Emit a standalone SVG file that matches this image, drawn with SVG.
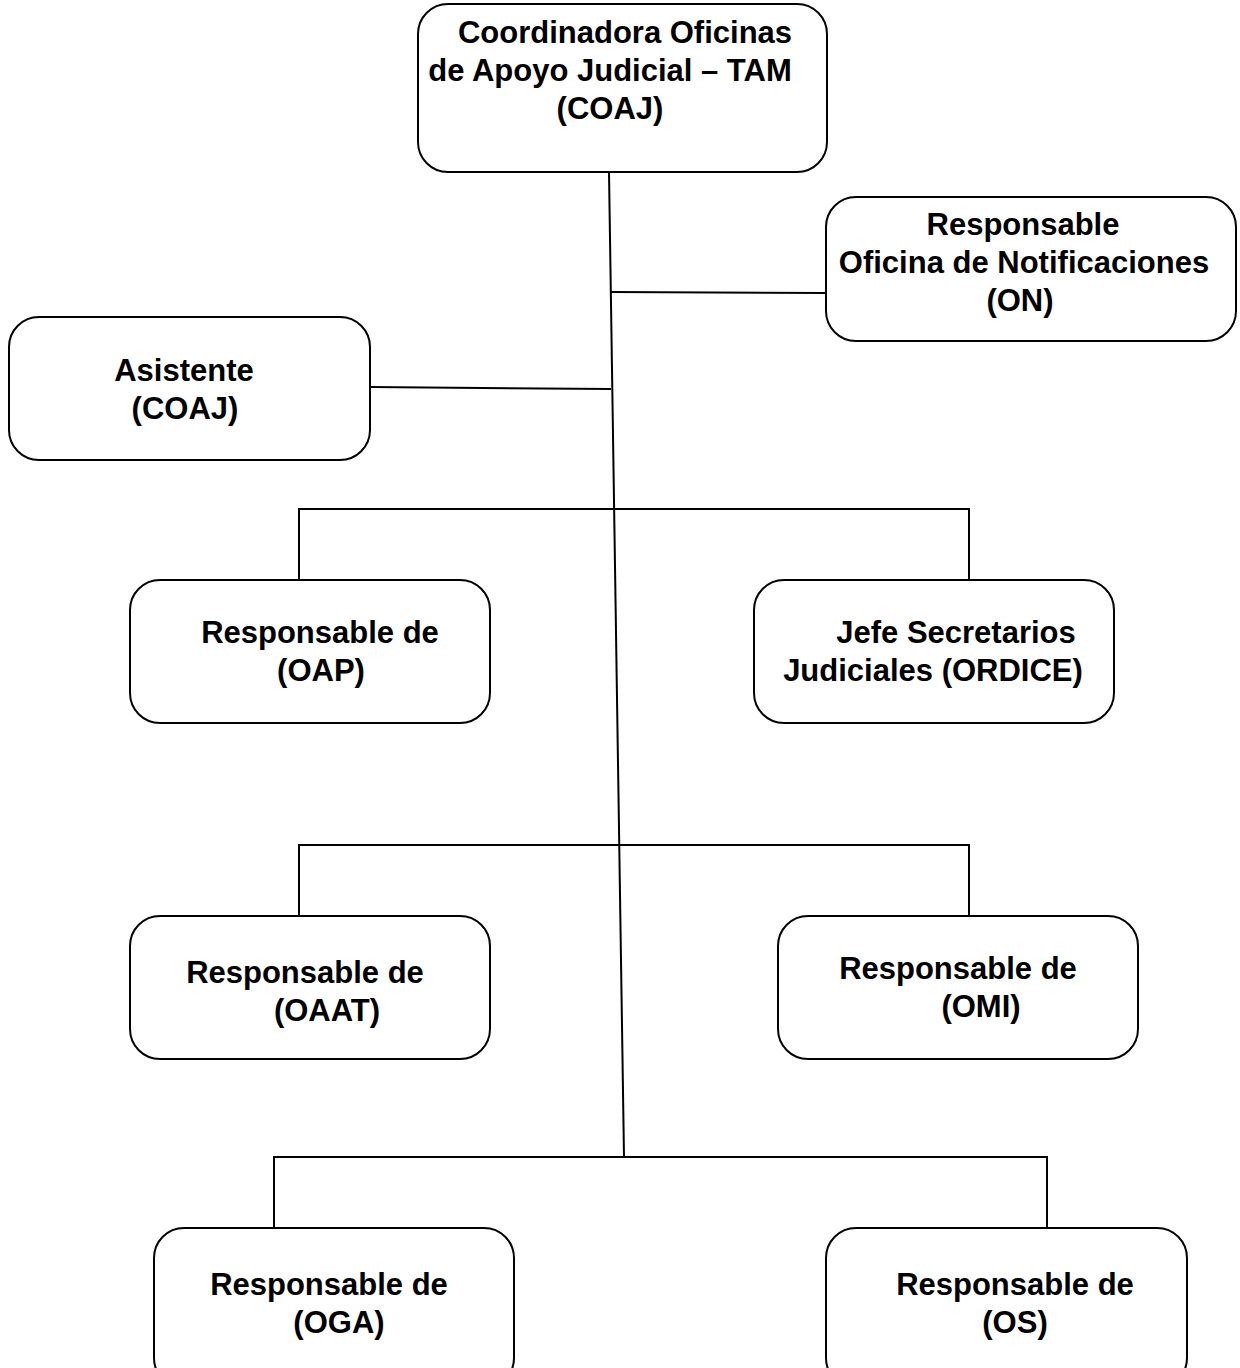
<svg xmlns="http://www.w3.org/2000/svg" width="1240" height="1368" viewBox="0 0 1240 1368">
<style>
.box{fill:#fff;stroke:#000;stroke-width:2}
.t{font-family:"Liberation Sans",Arial,sans-serif;font-weight:bold;font-size:31px;fill:#000;text-anchor:middle}
.c{stroke:#000;stroke-width:2;fill:none}
</style>
<rect width="1240" height="1368" fill="#fff"/>
<g id="connectors">
<line class="c" x1="609" y1="172" x2="624" y2="1157"/>
<line class="c" x1="611" y1="292" x2="826" y2="293"/>
<line class="c" x1="370" y1="387" x2="611" y2="389"/>
<polyline class="c" points="299,580 299,509 969,509 969,580"/>
<polyline class="c" points="299,916 299,845 969,845 969,916"/>
<polyline class="c" points="274,1228 274,1157 1047,1157 1047,1228"/>
</g>
<g id="coaj">
<rect class="box" x="418" y="4" width="409" height="168" rx="30"/>
<text class="t" x="625" y="43">Coordinadora Oficinas</text>
<text class="t" x="610" y="81">de Apoyo Judicial – TAM</text>
<text class="t" x="610" y="119">(COAJ)</text>
</g>
<g id="on">
<rect class="box" x="826" y="197" width="410" height="144" rx="30"/>
<text class="t" x="1023" y="235">Responsable</text>
<text class="t" x="1024" y="273">Oficina de Notificaciones</text>
<text class="t" x="1020" y="311">(ON)</text>
</g>
<g id="asistente">
<rect class="box" x="9" y="317" width="361" height="143" rx="30"/>
<text class="t" x="184" y="381">Asistente</text>
<text class="t" x="185" y="419">(COAJ)</text>
</g>
<g id="oap">
<rect class="box" x="130" y="580" width="360" height="143" rx="30"/>
<text class="t" x="320" y="643">Responsable de</text>
<text class="t" x="321" y="681">(OAP)</text>
</g>
<g id="ordice">
<rect class="box" x="754" y="580" width="360" height="143" rx="30"/>
<text class="t" x="956" y="643">Jefe Secretarios</text>
<text class="t" x="933" y="681">Judiciales (ORDICE)</text>
</g>
<g id="oaat">
<rect class="box" x="130" y="916" width="360" height="143" rx="30"/>
<text class="t" x="305" y="983">Responsable de</text>
<text class="t" x="327" y="1021">(OAAT)</text>
</g>
<g id="omi">
<rect class="box" x="778" y="916" width="360" height="143" rx="30"/>
<text class="t" x="958" y="979">Responsable de</text>
<text class="t" x="981" y="1017">(OMI)</text>
</g>
<g id="oga">
<rect class="box" x="154" y="1228" width="360" height="160" rx="30"/>
<text class="t" x="329" y="1295">Responsable de</text>
<text class="t" x="339" y="1333">(OGA)</text>
</g>
<g id="os">
<rect class="box" x="826" y="1228" width="361" height="160" rx="30"/>
<text class="t" x="1015" y="1295">Responsable de</text>
<text class="t" x="1015" y="1333">(OS)</text>
</g>
</svg>
